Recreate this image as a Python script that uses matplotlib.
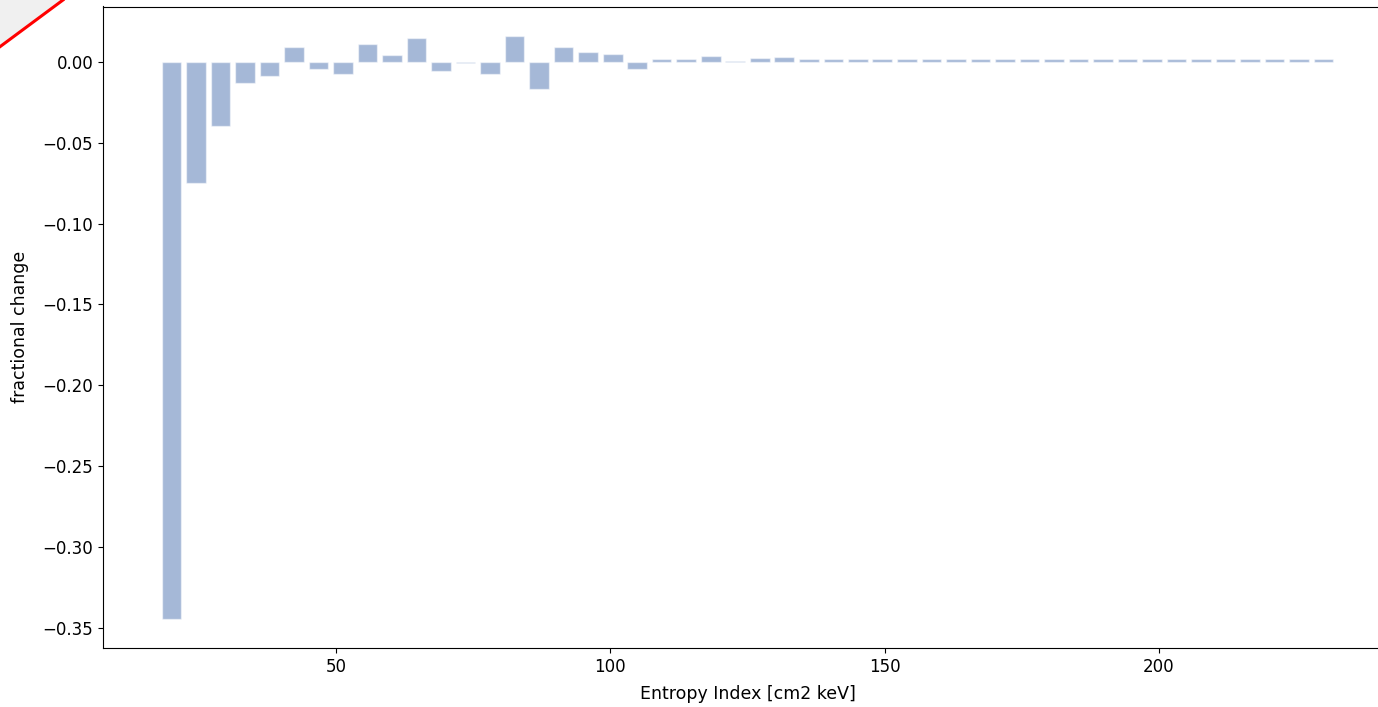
import matplotlib
matplotlib.use("Agg")
import matplotlib.pyplot as plt
from matplotlib.patches import Polygon
from matplotlib.lines import Line2D

# entropy bin centres [cm2 keV]
entropy_bins = [
    20.00, 24.47, 28.94, 33.40, 37.87, 42.34, 46.81, 51.28, 55.74, 60.21,
    64.68, 69.15, 73.62, 78.09, 82.55, 87.02, 91.49, 95.96, 100.43, 104.89,
    109.36, 113.83, 118.30, 122.77, 127.23, 131.70, 136.17, 140.64, 145.11, 149.57,
    154.04, 158.51, 162.98, 167.45, 171.91, 176.38, 180.85, 185.32, 189.79, 194.26,
    198.72, 203.19, 207.66, 212.13, 216.60, 221.06, 225.53, 230.00,
]

# fractional change per bin
frac_change = [
    -0.3445, -0.0748, -0.0396, -0.0132, -0.0085, 0.0095, -0.0041, -0.0076, 0.0111, 0.0041,
    0.0150, -0.0056, -0.0005, -0.0072, 0.0163, -0.0167, 0.0091, 0.0062, 0.0049, -0.0041,
    0.0020, 0.0020, 0.0035, 0.0004, 0.0024, 0.0030, 0.0018, 0.0020, 0.0020, 0.0020,
    0.0020, 0.0020, 0.0020, 0.0020, 0.0020, 0.0020, 0.0020, 0.0020, 0.0020, 0.0020,
    0.0020, 0.0020, 0.0020, 0.0020, 0.0020, 0.0020, 0.0020, 0.0020,
]

plt.rcParams["font.size"] = 12

W, H = 1378, 707
fig = plt.figure(figsize=(W / 100, H / 100), dpi=100)
# axes runs a little past the right edge (reference is cropped there)
ax = fig.add_axes([103 / W, 59 / H, 1289 / W, 641.5 / H])

step = entropy_bins[1] - entropy_bins[0]
ax.bar(entropy_bins, frac_change, width=0.8 * step, color="#4c72b0", alpha=0.5,
       edgecolor="white", linewidth=1)

ax.set_xticks([50, 100, 150, 200])
ax.set_yticks([0.0, -0.05, -0.10, -0.15, -0.20, -0.25, -0.30, -0.35])
ax.set_xlabel("Entropy Index [cm2 keV]", fontsize=12.5, labelpad=7)
ax.set_ylabel("fractional change", fontsize=12.5, labelpad=10)

# folded-corner marker in the top-left of the screenshot
x1, y1 = 63 / W, 1 - 46.7 / H
fig.patches.append(Polygon([(0, 1), (x1, 1), (0, y1)], closed=True,
                           transform=fig.transFigure, facecolor="#f0f0f0",
                           edgecolor="none", zorder=5))
fig.lines.append(Line2D([0, x1], [y1, 1], transform=fig.transFigure,
                        color="red", linewidth=2.2, zorder=6))

fig.savefig("out.png", dpi=100)
